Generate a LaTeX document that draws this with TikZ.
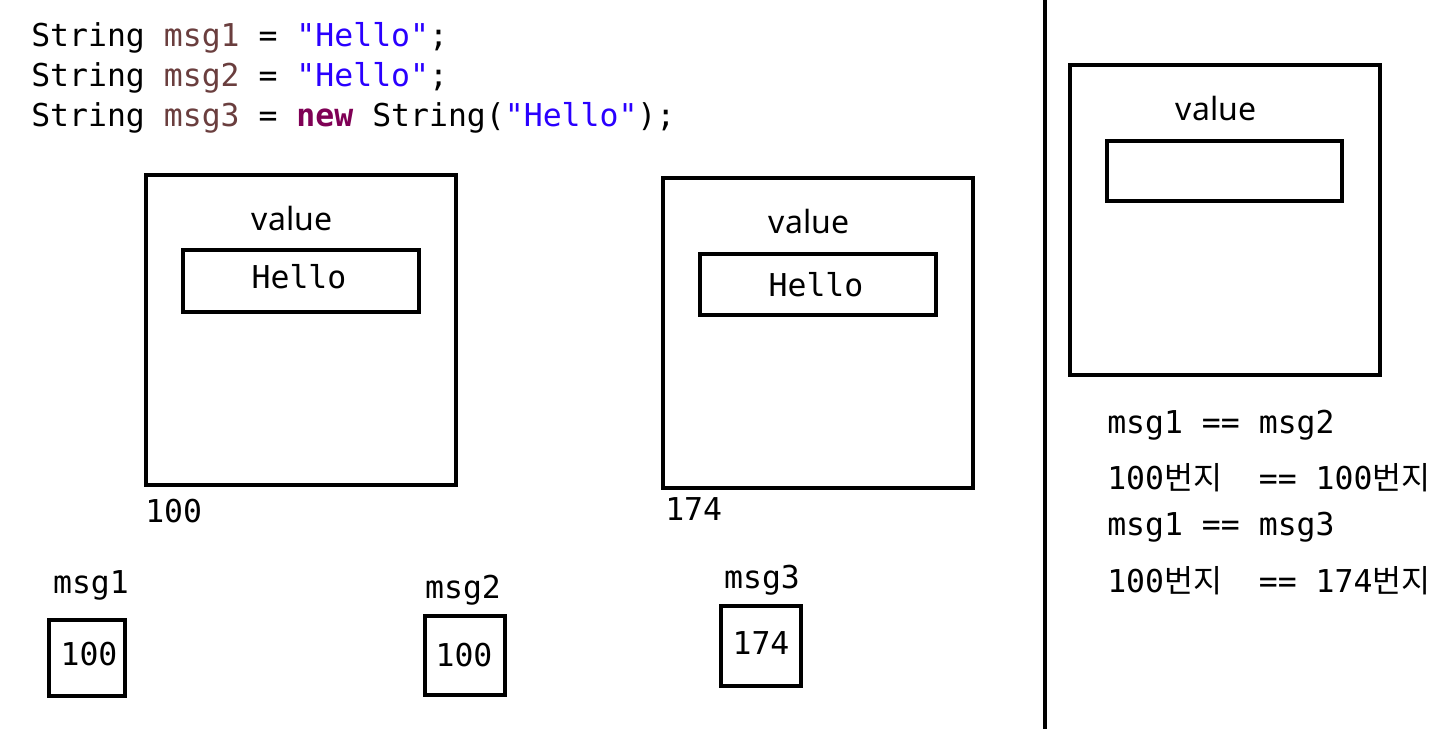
\documentclass[tikz,border=0pt]{standalone}
\usepackage{fontspec}
\usepackage{calc}
\usepackage{xcolor}
\setmonofont{DejaVu Sans Mono}
\newfontfamily\valuefont{Noto Sans}
\newfontfamily\krfont{Noto Sans CJK KR}
\definecolor{varcol}{RGB}{106,62,62}
\definecolor{strcol}{RGB}{42,0,255}
\definecolor{kwcol}{RGB}{127,0,85}
\newcommand{\bunji}{\makebox[\widthof{0000}][l]{\krfont 번지}}

\begin{document}
\begin{tikzpicture}[x=0.75pt,y=0.75pt,yscale=-1,xscale=1,
  codetext/.style={font=\ttfamily\fontsize{23.6}{28}\selectfont, inner sep=0pt},
  valuetext/.style={font=\valuefont\fontsize{24}{28}\selectfont, inner sep=0pt, anchor=base},
  membox/.style={line width=3.4pt}]
\useasboundingbox (0,0) rectangle (1452,729);

% Text Node
\node [codetext, anchor=base west] (codeA) at (31,46) {String \textcolor{varcol}{msg1} = \textcolor{strcol}{"Hello"};};
% Text Node
\node [codetext, anchor=base west] (codeB) at (31,86) {String \textcolor{varcol}{msg2} = \textcolor{strcol}{"Hello"};};
% Text Node
\node [codetext, anchor=base west] (codeC) at (31,126) {String \textcolor{varcol}{msg3} = \textcolor{kwcol}{\bfseries new} String(\textcolor{strcol}{"Hello"});};

%Shape: Rectangle
\draw [membox] (146,175) rectangle (456,485);
%Shape: Rectangle
\draw [membox] (183,250) rectangle (419,312);
%Shape: Rectangle
\draw [membox] (663,178) rectangle (973,488);
%Shape: Rectangle
\draw [membox] (700,254) rectangle (936,315);
%Shape: Rectangle
\draw [membox] (1070,65) rectangle (1380,375);
%Shape: Rectangle
\draw [membox] (1107,141) rectangle (1342,201);
%Shape: Rectangle
\draw [membox] (49,620) rectangle (125,696);
%Shape: Rectangle
\draw [membox] (425,616) rectangle (505,695);
%Shape: Rectangle
\draw [membox] (721,606) rectangle (801,686);

%Straight Lines
\draw [line width=3pt] (1045,0) -- (1045,729);

% Text Node
\node [valuetext] (valueA) at (292,230) {value};
% Text Node
\node [valuetext] (valueB) at (809,233) {value};
% Text Node
\node [valuetext] (valueC) at (1216,120) {value};
% Text Node
\node [codetext, anchor=base] (helloA) at (299,288) {Hello};
% Text Node
\node [codetext, anchor=base] (helloB) at (816,296) {Hello};
% Text Node
\node [codetext, anchor=base west] (addrA) at (145,522) {100};
% Text Node
\node [codetext, anchor=base west] (addrB) at (665,520) {174};

% Text Node
\node [codetext, anchor=base] (nameA) at (91,593) {msg1};
% Text Node
\node [codetext, anchor=base] (nameB) at (463,598) {msg2};
% Text Node
\node [codetext, anchor=base] (nameC) at (762,588) {msg3};
% Text Node
\node [codetext, anchor=base] (refA) at (89,665) {100};
% Text Node
\node [codetext, anchor=base] (refB) at (464,666) {100};
% Text Node
\node [codetext, anchor=base] (refC) at (761,654) {174};

% Text Node
\node [codetext, anchor=base west] (cmpA) at (1107,433) {msg1 == msg2};
% Text Node
\node [codetext, anchor=base west] (cmpB) at (1107,489) {100\bunji{} == 100\bunji};
% Text Node
\node [codetext, anchor=base west] (cmpC) at (1107,535) {msg1 == msg3};
% Text Node
\node [codetext, anchor=base west] (cmpD) at (1107,592) {100\bunji{} == 174\bunji};

\end{tikzpicture}
\end{document}
